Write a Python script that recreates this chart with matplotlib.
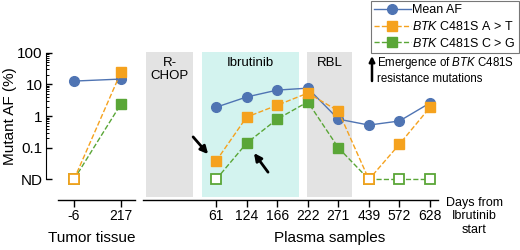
import matplotlib
matplotlib.use('Agg')
import matplotlib.pyplot as plt
from matplotlib.ticker import FixedLocator, NullFormatter
from matplotlib.lines import Line2D
import numpy as np

plt.rcParams['font.family'] = ['Liberation Sans', 'DejaVu Sans']
plt.rcParams['mathtext.fontset'] = 'custom'
plt.rcParams['mathtext.it'] = 'Liberation Sans:italic'
plt.rcParams['mathtext.rm'] = 'Liberation Sans'

ND = 0.01

# tumor tissue
tissue_days = ['-6', '217']
tissue_mean = [12.7, 14.7]
tissue_at = [ND, 24]
tissue_cg = [ND, 2.4]

# plasma samples
plasma_days = ['61', '124', '166', '222', '271', '439', '572', '628']
plasma_mean = [1.9, 4.0, 6.6, 7.6, 0.8, 0.52, 0.7, 2.6]
plasma_at = [0.038, 0.93, 2.2, 5.3, 1.45, ND, 0.13, 1.9]
plasma_cg = [ND, 0.14, 0.8, 2.8, 0.1, ND, ND, ND]

# treatment bands (in sample index units)
bands = ['R-\nCHOP', 'Ibrutinib', 'RBL']
band_start = [-2.29, -0.46, 2.98]
band_end = [-0.75, 2.72, 4.45]
band_colors = ['#e3e3e3', '#d3f3ef', '#e3e3e3']

blue = '#4f74b3'
orange = '#f5a21e'
green = '#5aa637'
ylo, yhi = 0.0028, 105

fig = plt.figure(figsize=(5.2, 2.5), dpi=100)
ax1 = fig.add_axes([58/520, 1-197/250, 77/520, 145/250])
ax2 = fig.add_axes([143/520, 1-197/250, 295/520, 145/250])


def draw_series(ax, vals, color, ls, marker, z):
    x = np.arange(len(vals))
    v = np.array(vals)
    ax.plot(x, v, ls=ls, color=color, lw=1.0, zorder=z)
    filled = v > ND
    ax.plot(x[filled], v[filled], ls='none', marker=marker, ms=7, color=color, zorder=z+0.5)
    ax.plot(x[~filled], v[~filled], ls='none', marker=marker, ms=6.5, mfc='white',
            mec=color, mew=1.3, zorder=z+0.5)


for ax, days, mean, at, cg in [(ax1, tissue_days, tissue_mean, tissue_at, tissue_cg),
                               (ax2, plasma_days, plasma_mean, plasma_at, plasma_cg)]:
    draw_series(ax, mean, blue, '-', 'o', 2)
    draw_series(ax, cg, green, '--', 's', 3)
    draw_series(ax, at, orange, '--', 's', 4)
    ax.set_yscale('log')
    ax.set_ylim(ylo, yhi)
    ax.set_xticks(range(len(days)))
    ax.set_xticklabels(days, fontsize=11)
    ax.tick_params(axis='x', length=5, width=1, pad=2)
    for s in ['top', 'right']:
        ax.spines[s].set_visible(False)
    ax.spines['bottom'].set_position(('outward', 2))
    ax.spines['bottom'].set_linewidth(1)

ax1.set_xlim(-0.34, 1.30)
ax1.spines['left'].set_position(('outward', 9))
ax1.spines['left'].set_bounds(ND, 100)
ax1.set_yticks([100, 10, 1, 0.1, ND])
ax1.set_yticklabels(['100', '10', '1', '0.1', 'ND'], fontsize=11)
minors = [m * d for d in [0.1, 1, 10] for m in range(2, 10)]
ax1.yaxis.set_minor_locator(FixedLocator(minors))
ax1.yaxis.set_minor_formatter(NullFormatter())
ax1.tick_params(axis='y', which='major', direction='in', length=4, width=1, pad=2)
ax1.tick_params(axis='y', which='minor', direction='in', length=2.5, width=0.7)
ax1.set_ylabel('Mutant AF (%)', fontsize=11, va='center')
ax1.yaxis.set_label_coords((10 - 58) / 77, (197 - 116) / 145)
ax1.set_xlabel('Tumor tissue', fontsize=11)
ax1.xaxis.set_label_coords((92 - 58) / 77, (197 - 238) / 145)
ax1.xaxis.label.set_va('center')

ax2.set_xlim(-2.39, 7.26)
ax2.spines['left'].set_visible(False)
ax2.set_yticks([])
ax2.yaxis.set_minor_locator(FixedLocator([]))
ax2.set_xlabel('Plasma samples', fontsize=11)
ax2.xaxis.set_label_coords((330 - 143) / 295, (197 - 238) / 145)
ax2.xaxis.label.set_va('center')
for name, a, b, c in zip(bands, band_start, band_end, band_colors):
    ax2.axvspan(a, b, color=c, lw=0, zorder=0)
    ax2.text((a + b) / 2, 0.965, name, transform=ax2.get_xaxis_transform(),
             ha='center', va='top', fontsize=9.5, linespacing=1.1)

# arrows to first detection
ax2.annotate('', xy=(-0.26, 0.063), xytext=(-0.75, 0.22),
             arrowprops=dict(arrowstyle='-|>', color='black', lw=2.0, mutation_scale=11,
                             shrinkA=0, shrinkB=0))
ax2.annotate('', xy=(1.24, 0.068), xytext=(1.70, 0.017),
             arrowprops=dict(arrowstyle='-|>', color='black', lw=2.0, mutation_scale=11,
                             shrinkA=0, shrinkB=0))

fig.text(474/520, 1-197/250, 'Days from\nIbrutinib\nstart', ha='center', va='top',
         fontsize=9, linespacing=1.15)

# legend
handles = [Line2D([], [], color=blue, marker='o', ms=7, lw=1),
           Line2D([], [], color=orange, marker='s', ms=7, lw=1, ls='--'),
           Line2D([], [], color=green, marker='s', ms=7, lw=1, ls='--')]
labels = ['Mean AF', r'$\it{BTK}$ C481S A > T', r'$\it{BTK}$ C481S C > G']
leg = fig.legend(handles, labels, loc='upper right', bbox_to_anchor=(519/520, 1-1/250),
                 fontsize=9, frameon=True, fancybox=False, handlelength=2.9,
                 handletextpad=0.15, borderpad=0.25, labelspacing=0.3, borderaxespad=0)
leg.get_frame().set_edgecolor('#555555')
leg.get_frame().set_linewidth(0.8)

ax2.annotate('', xy=(372/520, 1-56/250), xytext=(372/520, 1-81/250), xycoords='figure fraction',
             textcoords='figure fraction', annotation_clip=False,
             arrowprops=dict(arrowstyle='-|>', color='black', lw=1.8, mutation_scale=8,
                             shrinkA=0, shrinkB=0))
fig.text(377/520, 1-70/250, 'Emergence of $\\it{BTK}$ C481S\nresistance mutations',
         ha='left', va='center', fontsize=8.3, linespacing=1.2)

fig.savefig('out.png', dpi=100)
